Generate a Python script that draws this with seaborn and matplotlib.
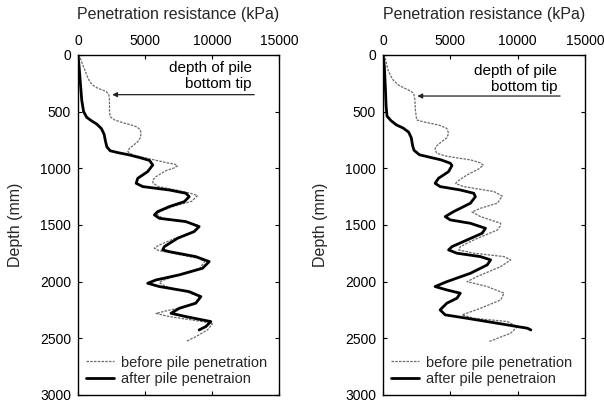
import matplotlib
matplotlib.use("Agg")
import matplotlib.pyplot as plt
import seaborn as sns
import pandas as pd

# ---- data (kPa vs depth in mm) ----
left_before_kpa = [0, 130, 300, 500, 700, 870, 1150, 1490, 1850, 2110, 2300, 2350, 2350, 2400, 2730,
                   3400, 3970, 4400, 4650, 4710, 4650, 4460, 4100, 3840, 3720, 4090, 4900, 5700, 6600,
                   7190, 7430, 7100, 6570, 5820, 5580, 5600, 6000, 7300, 8400, 8920, 8500, 7000, 6070,
                   5900, 6300, 8000, 8900, 9000, 8600, 7200, 6000, 5700, 6000, 7500, 9000, 9450, 9100,
                   7500, 6300, 6070, 6500, 8000, 9040, 8800, 8050, 6500, 5820, 6810, 9290, 10030, 9660,
                   8800, 8050]
left_before_mm = [0, 15, 70, 130, 190, 235, 270, 294, 310, 323, 350, 397, 500, 544, 573,
                  600, 617, 635, 660, 691, 730, 764, 800, 823, 853, 882, 905, 926, 950,
                  962, 978, 1000, 1020, 1073, 1103, 1130, 1161, 1191, 1220, 1240, 1290, 1340, 1385,
                  1405, 1440, 1470, 1500, 1520, 1560, 1620, 1680, 1705, 1725, 1760, 1795, 1823, 1880,
                  1940, 1990, 2010, 2040, 2085, 2132, 2180, 2220, 2260, 2280, 2308, 2352, 2372, 2426,
                  2485, 2529]

left_after_kpa = [0, 80, 180, 280, 420, 650, 1000, 1400, 1750, 1950, 2050, 2150, 2400, 3000, 3840,
                  4600, 5330, 5580, 5200, 4460, 4340, 4830, 6810, 8050, 8300, 7930, 6810, 5950, 5700,
                  6070, 8050, 9040, 8670, 7430, 6440, 6320, 6810, 8790, 9790, 9290, 7560, 5820, 5200,
                  6070, 8300, 9170, 8790, 7560, 6940, 8050, 9910, 9540, 9040]
left_after_mm = [0, 100, 250, 400, 500, 550, 580, 610, 650, 700, 760, 810, 845, 862, 882,
                 905, 930, 970, 1029, 1088, 1132, 1161, 1191, 1220, 1250, 1294, 1338, 1382, 1411,
                 1441, 1470, 1514, 1558, 1617, 1691, 1720, 1735, 1779, 1823, 1882, 1940, 1985, 2014,
                 2043, 2088, 2132, 2190, 2235, 2279, 2308, 2352, 2396, 2426]

right_before_kpa = [0, 130, 250, 370, 550, 750, 1150, 1620, 1950, 2120, 2300, 2370, 2400, 2500, 3000,
                    3500, 4200, 4740, 4870, 4750, 4370, 4000, 3870, 3900, 4000, 4600, 5500, 6490, 7200,
                    7450, 7110, 6240, 5490, 5400, 5990, 8240, 8860, 8490, 7240, 6610, 7240, 8740, 8700,
                    8490, 6740, 5740, 5620, 6740, 8990, 9480, 8740, 6990, 6240, 7740, 8990, 8740, 7240,
                    5870, 6740, 9240, 9980, 9480, 7860]
right_before_mm = [0, 15, 70, 132, 180, 220, 265, 294, 312, 323, 350, 397, 480, 573, 590,
                   602, 620, 647, 691, 730, 764, 800, 823, 845, 867, 890, 908, 925, 950,
                   972, 1005, 1058, 1117, 1135, 1161, 1205, 1245, 1308, 1352, 1385, 1426, 1485, 1510,
                   1544, 1632, 1691, 1720, 1749, 1779, 1808, 1867, 1955, 2000, 2043, 2102, 2161, 2235,
                   2293, 2323, 2352, 2397, 2455, 2529]

right_after_kpa = [0, 100, 180, 230, 300, 600, 1000, 1500, 1900, 2100, 2200, 2300, 2700, 3400, 4300,
                   5000, 5120, 4870, 4120, 3870, 4240, 5740, 6740, 6860, 6490, 5240, 4620, 4990, 6490,
                   7610, 7360, 6240, 5120, 4870, 5490, 7240, 7990, 7740, 6490, 4740, 3870, 4740, 5740,
                   5490, 4740, 4240, 4620, 6240, 8490, 10730, 10980]
right_after_mm = [0, 100, 300, 450, 540, 580, 617, 645, 680, 730, 800, 840, 880, 900, 925,
                  955, 975, 1029, 1088, 1132, 1161, 1191, 1220, 1250, 1308, 1382, 1426, 1455, 1485,
                  1529, 1573, 1632, 1691, 1720, 1749, 1779, 1808, 1852, 1926, 2000, 2043, 2073, 2102,
                  2146, 2190, 2249, 2293, 2323, 2367, 2411, 2426]

x_ticks = [0, 5000, 10000, 15000]
y_ticks = [0, 500, 1000, 1500, 2000, 2500, 3000]
series_names = ["before pile penetration", "after pile penetraion"]
x_label = "Penetration resistance (kPa)"
y_label = "Depth (mm)"
note_text = "depth of pile\nbottom tip"

sns.set_theme(style="white")
plt.rcParams['font.family'] = ['Liberation Sans', 'DejaVu Sans']

fig = plt.figure(figsize=(6.04, 4.03), dpi=100)
ax1 = fig.add_axes([78 / 604, 1 - 395 / 403, 201 / 604, 340 / 403])
ax2 = fig.add_axes([383 / 604, 1 - 395 / 403, 202 / 604, 340 / 403])

panels = [
    (ax1, left_before_kpa, left_before_mm, left_after_kpa, left_after_mm, 350, 184),
    (ax2, right_before_kpa, right_before_mm, right_after_kpa, right_after_mm, 362, 213),
]

for ax, bk, bm, ak, am, arrow_y, text_y in panels:
    dfb = pd.DataFrame({"kpa": bk, "mm": bm})
    dfa = pd.DataFrame({"kpa": ak, "mm": am})
    sns.lineplot(data=dfb, x="kpa", y="mm", sort=False, estimator=None, ax=ax,
                 color="#6a6a6a", lw=0.9, label=series_names[0])
    ax.lines[-1].set_linestyle((0, (2.0, 1.0)))
    sns.lineplot(data=dfa, x="kpa", y="mm", sort=False, estimator=None, ax=ax,
                 color="black", lw=2.0, label=series_names[1])
    for ln in ax.lines:
        ln.set_solid_joinstyle('round')
        ln.set_dash_joinstyle('round')

    ax.set_xlim(0, 15000)
    ax.set_ylim(3000, 0)
    ax.set_xticks(x_ticks)
    ax.set_yticks(y_ticks)
    ax.xaxis.set_label_position('top')
    ax.set_xlabel(x_label, fontsize=11.5, labelpad=11)
    ax.set_ylabel(y_label, fontsize=11.5, labelpad=12)
    ax.tick_params(axis='both', direction='in', length=3, width=0.8, colors='black',
                   top=True, bottom=True, left=True, right=True,
                   labeltop=True, labelbottom=False, labelsize=10, pad=5)
    for sp in ax.spines.values():
        sp.set_color('black')
        sp.set_linewidth(1.0)
    ax.grid(False)

    ax.annotate('', xy=(2550, arrow_y), xytext=(13150, arrow_y),
                arrowprops=dict(arrowstyle='-|>', color='#222222', lw=0.9,
                                mutation_scale=7, shrinkA=0, shrinkB=0))
    ax.text(12950, text_y, note_text, ha='right', va='center', fontsize=11,
            linespacing=1.15, color='black')

    ax.legend(loc='lower left', bbox_to_anchor=(0.04, 0.025), frameon=False,
              fontsize=10.5, handlelength=1.9, handletextpad=0.5,
              labelspacing=0.2, borderpad=0, borderaxespad=0)

fig.savefig("out.png", dpi=100)
